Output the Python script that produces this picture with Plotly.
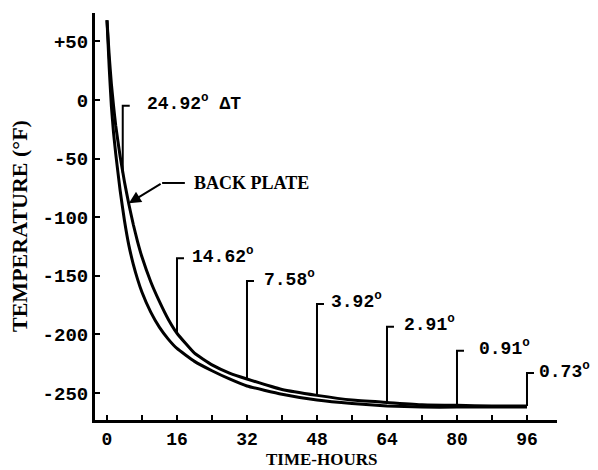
import plotly.graph_objects as go

# ---- data ----
hours_upper = [0, 0.5, 1, 1.5, 2, 3, 4, 5, 6, 7, 8, 10, 12, 14, 16, 20, 24, 28, 32, 40, 48, 56, 64, 72, 80, 88, 96]
back_plate = [68, 38, 14, -5, -22, -48, -70, -89, -106, -121, -134, -155, -172, -187, -199, -216, -226, -233, -238, -247, -252, -256, -258, -260, -260.5, -261, -261]

hours_lower = [0, 0.5, 1, 1.5, 2, 3, 4, 5, 6, 7, 8, 10, 12, 14, 16, 20, 24, 28, 32, 40, 48, 56, 64, 72, 80, 88, 96]
front_plate = [68, 28, -5, -28, -46, -77, -103, -124, -140, -153, -164, -181, -194, -204, -212, -223, -231, -238, -244, -251, -256, -259, -261, -262, -262, -262, -262]

marker_hours = [3.6, 16, 32, 48, 64, 80, 96]
marker_bottom = [-62, -199, -238, -252, -258, -260.5, -261]
marker_top = [-5, -135, -154.5, -174, -193.5, -214, -233]
marker_labels = ["24.92<sup>o</sup> ΔT", "14.62<sup>o</sup>", "7.58<sup>o</sup>", "3.92<sup>o</sup>",
                 "2.91<sup>o</sup>", "0.91<sup>o</sup>", "0.73<sup>o</sup>"]
label_dx = [22, 13, 15, 12, 15, 20, 10]

x_ticks = [0, 16, 32, 48, 64, 80, 96]
y_ticks = [50, 0, -50, -100, -150, -200, -250]
y_tick_text = ["+50", "0", "-50", "-100", "-150", "-200", "-250"]

MONO = "Liberation Mono"
SERIF = "Liberation Serif"

fig = go.Figure()
fig.add_trace(go.Scatter(x=hours_lower, y=front_plate, mode="lines",
                         line=dict(color="black", width=3, shape="spline", smoothing=0.4),
                         hoverinfo="skip", showlegend=False))
fig.add_trace(go.Scatter(x=hours_upper, y=back_plate, mode="lines",
                         line=dict(color="black", width=3, shape="spline", smoothing=0.4),
                         hoverinfo="skip", showlegend=False))

# delta-T marker lines
mx, my = [], []
serif_len = 1.6
for t, b, top in zip(marker_hours, marker_bottom, marker_top):
    mx += [t, t, t + serif_len, None]
    my += [b, top, top, None]
fig.add_trace(go.Scatter(x=mx, y=my, mode="lines", line=dict(color="black", width=2),
                         hoverinfo="skip", showlegend=False))

for t, top, lab, dx in zip(marker_hours, marker_top, marker_labels, label_dx):
    fig.add_annotation(x=t, y=top, text="<b>" + lab + "</b>", showarrow=False,
                       xanchor="left", yanchor="middle", xshift=dx, yshift=3,
                       font=dict(family=MONO, size=18, color="black"))

# BACK PLATE label with arrow
fig.add_annotation(x=5.0, y=-88, ax=12.6, ay=-70.8, axref="x", ayref="y",
                   text="", showarrow=True, arrowhead=2, arrowsize=1.2, arrowwidth=2,
                   arrowcolor="black")
fig.add_trace(go.Scatter(x=[12.6, 17.8], y=[-70.8, -70.8], mode="lines",
                         line=dict(color="black", width=2), hoverinfo="skip", showlegend=False))
fig.add_annotation(x=19.5, y=-70.8, text="<b>BACK PLATE</b>", showarrow=False,
                   xanchor="left", yanchor="middle",
                   font=dict(family=SERIF, size=18, color="black"))

# axis titles
fig.add_annotation(xref="paper", yref="paper", x=0, y=0.4767, xshift=-75,
                   text="<b>TEMPERATURE (°F)</b>", textangle=-90, showarrow=False,
                   xanchor="center", yanchor="middle",
                   font=dict(family=SERIF, size=22, color="black"))
fig.add_annotation(xref="paper", yref="paper", x=0.4913, y=0, yshift=-39,
                   text="<b>TIME-HOURS</b>", showarrow=False,
                   xanchor="center", yanchor="middle",
                   font=dict(family=SERIF, size=17, color="black"))

fig.update_xaxes(range=[-2.74, 102.86], tickvals=x_ticks, ticktext=[f"<b>{v}</b>" for v in x_ticks],
                 ticks="inside", ticklen=5, tickwidth=2, tickcolor="black",
                 minor=dict(dtick=8, tick0=0, ticks="inside", ticklen=5, tickwidth=2, tickcolor="black"),
                 showline=True, linecolor="black", linewidth=3, showgrid=False, zeroline=False,
                 tickfont=dict(family=MONO, size=18, color="black"))
fig.update_yaxes(range=[-273, 74.2], tickvals=y_ticks, ticktext=[f"<b>{v}</b>" for v in y_tick_text],
                 ticks="inside", ticklen=5, tickwidth=2, tickcolor="black",
                 showline=True, linecolor="black", linewidth=3, showgrid=False, zeroline=False,
                 tickfont=dict(family=MONO, size=19, color="black"))

# page body adds an 8px margin, so the figure is drawn 8px smaller and shifted
fig.update_layout(width=590, height=462, margin=dict(l=87, r=41, t=5, b=50),
                  paper_bgcolor="white", plot_bgcolor="white", showlegend=False)

fig.write_html("out.html")
